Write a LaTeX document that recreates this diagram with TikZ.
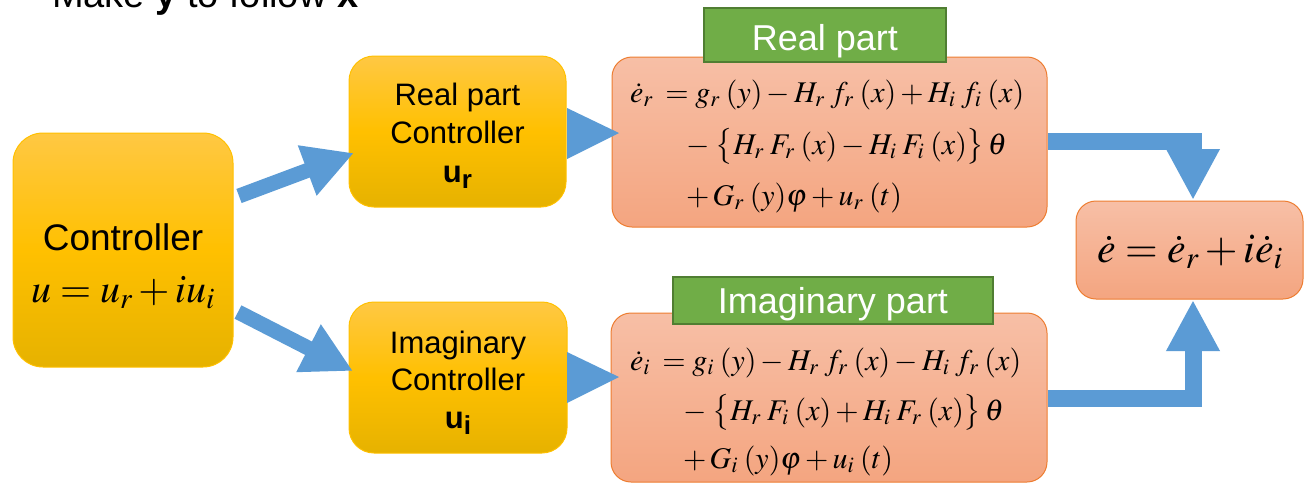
\documentclass[tikz,border=0pt]{standalone}
\usepackage{mathptmx}
\usepackage[no-math]{fontspec}
\newfontfamily\sans{Liberation Sans}
\usetikzlibrary{arrows.meta}
\newcommand\sbs[1]{_{#1}\mkern3.5mu}
\definecolor{arrowblue}{HTML}{5B9BD5}
\definecolor{goldtop}{HTML}{FFC843}
\definecolor{goldmid}{HTML}{FFC000}
\definecolor{goldbot}{HTML}{E6B200}
\definecolor{goldedge}{HTML}{FFC000}
\definecolor{salmtop}{HTML}{F7BFA6}
\definecolor{salmbot}{HTML}{F4A580}
\definecolor{salmedge}{HTML}{ED7D31}
\definecolor{greenfill}{HTML}{70AD47}
\definecolor{greenedge}{HTML}{507E32}
\tikzset{
  goldbox/.style={draw=goldedge, line width=1pt, top color=goldtop, bottom color=goldbot, middle color=goldmid, inner sep=0pt},
  salmbox/.style={draw=salmedge, line width=1pt, top color=salmtop, bottom color=salmbot, rounded corners=20pt, inner sep=0pt},
  greenlabel/.style={draw=greenedge, line width=1.5pt, fill=greenfill, inner sep=0pt},
  txt/.style={inner sep=0pt, outer sep=0pt},
  sanstxt/.style={txt, font=\sans\fontsize{31}{31}\selectfont},
  labeltxt/.style={txt, text=white, font=\sans\fontsize{36}{36}\selectfont},
  eqtxt/.style={txt, anchor=base west, font=\fontsize{30}{30}\selectfont},
  diagarrow/.style={draw=arrowblue, line width=15pt, -{Triangle[width=50pt,length=50pt]}},
  elbowarrow/.style={draw=arrowblue, line width=17pt, line join=miter, -{Triangle[width=50pt,length=51pt]}},
}
\begin{document}
\begin{tikzpicture}[x=1pt,y=-1pt]
\clip (0,0) rectangle (1304,483);
\useasboundingbox (0,0) rectangle (1304,483);

% title (cut off at the top)
\node[txt, anchor=base west, font=\sans\fontsize{38}{38}\selectfont] (title) at (52,7) {Make \textbf{y} to follow \textbf{x}};

% main controller
\node[goldbox, rounded corners=30pt, minimum width=220pt, minimum height=234pt] (ctrl) at (123,250) {};
\node[txt, anchor=base, font=\sans\fontsize{37}{37}\selectfont] (ctrlA) at (123,250) {Controller};
\node[txt, anchor=base, font=\fontsize{40}{40}\selectfont] (ctrlB) at (123,302) {$u=u_r+iu_i$};

% real part controller
\node[goldbox, rounded corners=25pt, minimum width=217pt, minimum height=151pt] (rc) at (457.5,131.5) {};
\node[sanstxt, anchor=base] (rcA) at (457.5,105) {Real part};
\node[sanstxt, anchor=base] (rcB) at (457.5,143) {Controller};
\node[sanstxt, anchor=base] (rcC) at (457.5,182) {\bfseries u\raisebox{-6pt}{\fontsize{26}{26}\selectfont r}};

% imaginary controller
\node[goldbox, rounded corners=25pt, minimum width=218pt, minimum height=151pt] (ic) at (458,377.5) {};
\node[sanstxt, anchor=base] (icA) at (458,353) {Imaginary};
\node[sanstxt, anchor=base] (icB) at (458,390) {Controller};
\node[sanstxt, anchor=base] (icC) at (458,428) {\bfseries u\raisebox{-6pt}{\fontsize{26}{26}\selectfont i}};

% real part equation
\node[salmbox, minimum width=435pt, minimum height=170pt] (eqr) at (829.5,142) {};
\node[greenlabel, minimum width=242pt, minimum height=54pt] (lblr) at (825,35) {};
\node[labeltxt, anchor=base] (lblrT) at (825,50) {Real part};
\node[eqtxt] (eqr1) at (630,102) {$\dot e\sbs{r} = g\sbs{r}(y) - H\sbs{r} f\sbs{r}(x) + H\sbs{i} f\sbs{i}(x)$};
\node[eqtxt] (eqr2) at (686,154) {$-\;\bigl\{H\sbs{r} F\sbs{r}(x) - H\sbs{i} F\sbs{i}(x)\bigr\}\,\theta$};
\node[eqtxt] (eqr3) at (686,205) {$+\,G\sbs{r}(y)\varphi + u\sbs{r}(t)$};

% imaginary part equation
\node[salmbox, minimum width=436pt, minimum height=169pt] (eqi) at (829,397.5) {};
\node[greenlabel, minimum width=320pt, minimum height=47pt] (lbli) at (833,300.5) {};
\node[labeltxt, anchor=base] (lbliT) at (833,313) {Imaginary part};
\node[eqtxt] (eqi1) at (630,370) {$\dot e\sbs{i} = g\sbs{i}(y) - H\sbs{r} f\sbs{r}(x) - H\sbs{i} f\sbs{r}(x)$};
\node[eqtxt] (eqi2) at (683,420) {$-\;\bigl\{H\sbs{r} F\sbs{i}(x) + H\sbs{i} F\sbs{r}(x)\bigr\}\,\theta$};
\node[eqtxt] (eqi3) at (683,468) {$+\,G\sbs{i}(y)\varphi + u\sbs{i}(t)$};

% sum
\node[salmbox, minimum width=227pt, minimum height=98pt] (sum) at (1189.5,250) {};
\node[txt, anchor=base, font=\fontsize{42}{42}\selectfont] (sumT) at (1190,262) {$\dot e=\dot e_r+i\dot e_i$};

% connectors
\coordinate (d1s) at (239,196);
\coordinate (d1e) at (354,153);
\coordinate (d2s) at (238,312);
\coordinate (d2e) at (353,371);
\draw[diagarrow] (d1s) -- (d1e);
\draw[diagarrow] (d2s) -- (d2e);

\coordinate (t1a) at (567,108); \coordinate (t1b) at (567,159); \coordinate (t1c) at (619,133);
\coordinate (t2a) at (567,352); \coordinate (t2b) at (567,403); \coordinate (t2c) at (619,377);
\fill[arrowblue] (t1a) -- (t1c) -- (t1b) -- cycle;
\fill[arrowblue] (t2a) -- (t2c) -- (t2b) -- cycle;

\coordinate (r1s) at (eqr.east |- 0,141.5);
\coordinate (r1e) at (1193,200);
\coordinate (r2s) at (eqi.east |- 0,398);
\coordinate (r2e) at (1193,300);
\draw[elbowarrow] (r1s) -| (r1e);
\draw[elbowarrow] (r2s) -| (r2e);
\end{tikzpicture}
\end{document}
